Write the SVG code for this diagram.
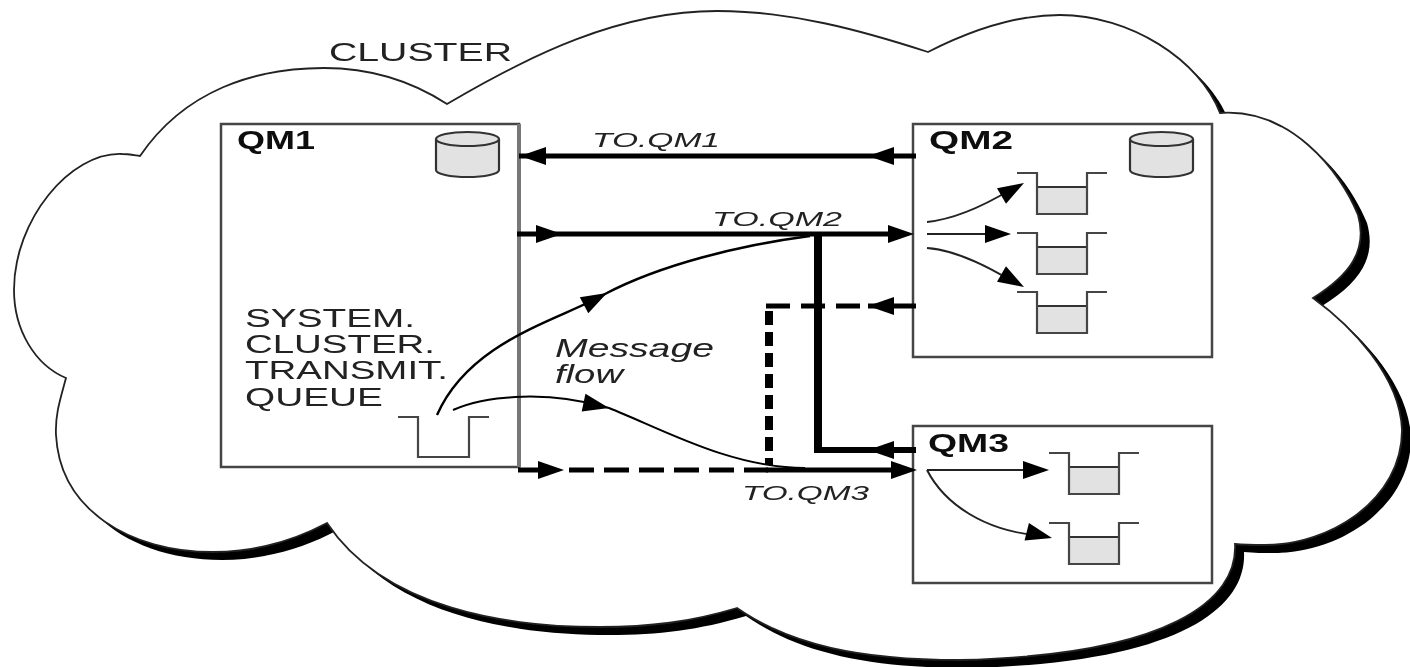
<svg xmlns="http://www.w3.org/2000/svg" width="1410" height="667" viewBox="0 0 1410 667">
<defs>
<filter id="soft" x="-2%" y="-2%" width="104%" height="104%"><feGaussianBlur stdDeviation="0.55"/></filter>
<clipPath id="shadowclip"><rect x="90" y="0" width="1320" height="667"/></clipPath>
<path id="cloud" d="M447 104C530 55 620 11 717 11C790 11 860 30 928 52C975 28 1020 15 1060 15C1130 15 1200 60 1220 113C1290 108 1340 170 1358 215C1368 250 1350 275 1313 298C1350 325 1400 375 1402 430C1402 500 1330 545 1265 545C1255 545 1245 545 1235 544C1238 600 1170 655 960 660C860 660 790 645 737 608C690 622 650 627 600 627C510 627 385 610 327 523C295 540 255 552 213 552C130 552 60 510 56 435C55 415 60 400 66 378C35 365 14 330 14 290C14 220 70 152 122 154C128 154 133 155 140 156C185 90 255 68 324 68C370 68 410 80 447 104Z"/>
<polygon id="head" points="0,0 -26,-9 -26,9"/>
<g id="cyl"><path class="fillg" d="M0 0V31A31.5 7 0 0 0 63 31V0"/><ellipse class="fillg" cx="31.5" cy="0" rx="31.5" ry="7"/></g>
<g id="tank"><rect class="water" x="20" y="14" width="50" height="27"/><path class="qline" d="M0 0H20V41H70V0H90"/></g>
</defs>
<style>
.box{fill:#fff;stroke:#444;stroke-width:2.5}
.fillg{fill:#e2e2e2;stroke:#333;stroke-width:2.2}
.water{fill:#e2e2e2;stroke:#333;stroke-width:2}
.qline{fill:none;stroke:#444;stroke-width:2.2}
.label{font-family:"Liberation Sans",Arial,sans-serif;font-size:25px;fill:#222}
.b{font-weight:700;fill:#111}
.i{font-style:italic}
.t{font-size:21px}
.wire{fill:none;stroke:#000}
.w5{stroke-width:5}
.thin{stroke-width:2;stroke:#222}
</style>
<rect width="1410" height="667" fill="#fff"/>
<g filter="url(#soft)">
<g id="cluster">
<g clip-path="url(#shadowclip)"><use href="#cloud" fill="#000" transform="translate(9 8)"/></g>
<use href="#cloud" fill="#fff" stroke="#222" stroke-width="1.8"/>
<text class="label" x="329" y="61" textLength="183" lengthAdjust="spacingAndGlyphs">CLUSTER</text>
</g>
<g id="qm1">
<rect class="box" x="221" y="124" width="298" height="343"/>
<path d="M519 124V467" stroke="#777" stroke-width="4" fill="none"/>
<text class="label b" x="237" y="149" textLength="78" lengthAdjust="spacingAndGlyphs">QM1</text>
<use href="#cyl" transform="translate(436 139)"/>
<text class="label" x="245" y="327" textLength="170" lengthAdjust="spacingAndGlyphs">SYSTEM.</text>
<text class="label" x="245" y="353" textLength="190" lengthAdjust="spacingAndGlyphs">CLUSTER.</text>
<text class="label" x="245" y="379" textLength="203" lengthAdjust="spacingAndGlyphs">TRANSMIT.</text>
<text class="label" x="245" y="406" textLength="138" lengthAdjust="spacingAndGlyphs">QUEUE</text>
<path class="qline" d="M398 417H418V457H469V417H489"/>
</g>
<g id="qm2">
<rect class="box" x="913" y="124" width="299" height="233"/>
<text class="label b" x="929" y="149" textLength="84" lengthAdjust="spacingAndGlyphs">QM2</text>
<use href="#cyl" transform="translate(1130 139)"/>
<use href="#tank" transform="translate(1017 173)"/>
<use href="#tank" transform="translate(1017 233)"/>
<use href="#tank" transform="translate(1017 292)"/>
</g>
<g id="qm3">
<rect class="box" x="913" y="426" width="299" height="157"/>
<text class="label b" x="928" y="452" textLength="81" lengthAdjust="spacingAndGlyphs">QM3</text>
<use href="#tank" transform="translate(1049 453)"/>
<use href="#tank" transform="translate(1049 523)"/>
</g>
<g id="connectors">
<path class="wire w5" d="M519 156H916"/>
<use href="#head" transform="translate(520 156) rotate(180)"/>
<use href="#head" transform="translate(868 156) rotate(180)"/>
<path class="wire w5" d="M517 234H905"/>
<use href="#head" transform="translate(562 234)"/>
<use href="#head" transform="translate(914 234)"/>
<path class="wire" stroke-width="8" d="M818 234V450"/>
<path class="wire" stroke-width="6" d="M814 450H916"/>
<use href="#head" transform="translate(868 450) rotate(180)"/>
<path class="wire w5" stroke-dasharray="24 11" d="M766 306H868"/>
<path class="wire w5" d="M868 306H916"/>
<use href="#head" transform="translate(868 306) rotate(180)"/>
<path class="wire" stroke-width="8" stroke-dasharray="14 7" d="M769 311V465"/>
<path class="wire w5" d="M518 470H545"/>
<use href="#head" transform="translate(564 470)"/>
<path class="wire w5" stroke-dasharray="25 10" d="M569 470H768"/>
<path class="wire w5" d="M766 470H905"/>
<use href="#head" transform="translate(917 470)"/>
<path class="wire" stroke-width="2.4" stroke="#111" d="M437 415C470 340 560 320 605 294C660 265 740 245 810 236"/>
<use href="#head" transform="translate(607 293) rotate(-28)"/>
<path class="wire" stroke-width="2" stroke="#111" d="M453 410C480 398 540 388 609 408C660 428 730 468 805 468"/>
<use href="#head" transform="translate(609 408) rotate(12)"/>
<path class="wire thin" d="M927 222C955 219 985 205 1010 190"/>
<use href="#head" transform="translate(1024 183) rotate(-30)"/>
<path class="wire thin" d="M927 234H995"/>
<use href="#head" transform="translate(1011 234)"/>
<path class="wire thin" d="M927 248C955 250 985 265 1010 280"/>
<use href="#head" transform="translate(1024 287) rotate(30)"/>
<path class="wire thin" d="M927 470H1030"/>
<use href="#head" transform="translate(1049 470)"/>
<path class="wire thin" d="M927 470C945 505 985 530 1035 535"/>
<use href="#head" transform="translate(1052 538) rotate(14)"/>
</g>
<g id="labels">
<text class="label i" x="555" y="357" textLength="159" lengthAdjust="spacingAndGlyphs">Message</text>
<text class="label i" x="555" y="383" textLength="68" lengthAdjust="spacingAndGlyphs">flow</text>
<text class="label i t" x="592" y="147" textLength="128" lengthAdjust="spacingAndGlyphs">TO.QM1</text>
<text class="label i t" x="712" y="226" textLength="130" lengthAdjust="spacingAndGlyphs">TO.QM2</text>
<text class="label i t" x="742" y="500" textLength="127" lengthAdjust="spacingAndGlyphs">TO.QM3</text>
</g>
</g>
</svg>
